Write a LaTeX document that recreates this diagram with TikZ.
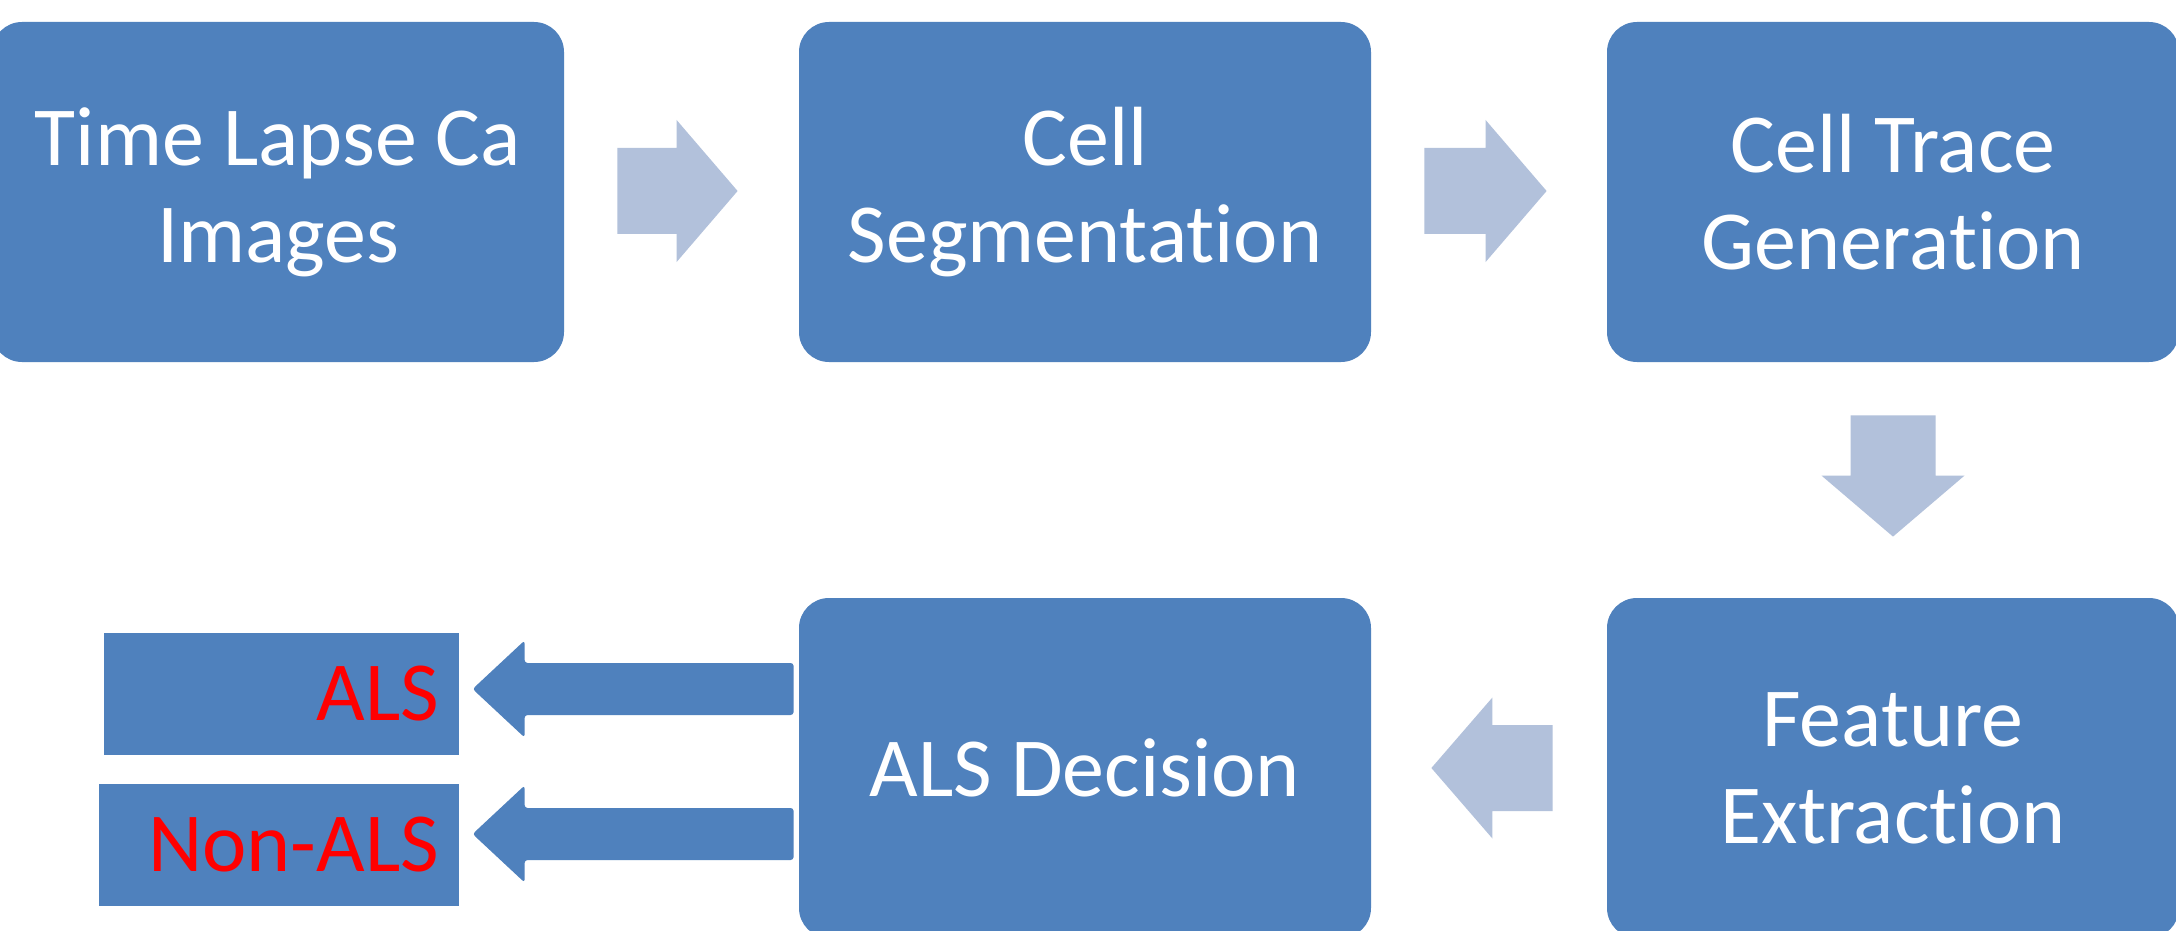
\documentclass[tikz,border=0pt]{standalone}
\usepackage{fontspec}
\setmainfont{Carlito}[Ligatures=NoCommon]
\usetikzlibrary{calc}
\definecolor{boxblue}{HTML}{4F81BD}
\definecolor{lightblue}{HTML}{B2C1DB}
\definecolor{alsred}{HTML}{FF0000}
% #1 style, #2 tail, #3 tip, #4 shaft half width, #5 head half width, #6 head length (signed)
\newcommand\myharrow[6]{%
  \fill[#1] ($(#2)+(0,-#4)$) -- ($(#3)+({-1*(#6)},-#4)$) -- ($(#3)+({-1*(#6)},-#5)$) -- (#3)
    -- ($(#3)+({-1*(#6)},#5)$) -- ($(#3)+({-1*(#6)},#4)$) -- ($(#2)+(0,#4)$) -- cycle;}
\newcommand\myvarrow[6]{%
  \fill[#1] ($(#2)+(-#4,0)$) -- ($(#3)+(-#4,{-1*(#6)})$) -- ($(#3)+(-#5,{-1*(#6)})$) -- (#3)
    -- ($(#3)+(#5,{-1*(#6)})$) -- ($(#3)+(#4,{-1*(#6)})$) -- ($(#2)+(#4,0)$) -- cycle;}
\begin{document}
\begin{tikzpicture}[x=0.5pt,y=-0.5pt,
  stagebox/.style={fill=boxblue, rounded corners=15pt, minimum width=286pt, minimum height=170pt,
    text=white, align=center, font=\fontsize{42}{48.5}\selectfont, inner sep=0pt},
  outbox/.style={fill=boxblue, minimum height=61pt, text=alsred, align=right,
    font=\fontsize{42}{48.5}\selectfont, inner xsep=10pt, inner ysep=0pt},
  flowarrow/.style={fill=lightblue},
  darkarrow/.style={fill=boxblue, rounded corners=1.5pt}]
\useasboundingbox (0,0) rectangle (2176,931);
\clip (0,0) rectangle (2176,931);
\fill[white] (0,0) rectangle (2176,931);

\node[stagebox] (img) at (278,192) {Time Lapse Ca\\Images};
\node[stagebox] (seg) at (1085,192) {Cell\\Segmentation};
\node[stagebox] (trace) at (1893,192) {Cell Trace\\Generation};
\node[stagebox] (feat) at (1893,768) {Feature\\Extraction};
\node[stagebox] (dec) at (1085,768) {ALS Decision};
\node[outbox, text width=157.5pt] (als) at (281.5,694) {ALS};
\node[outbox, text width=160pt] (nonals) at (279,845) {Non-ALS};

% light flow arrows
\coordinate (a1t) at ($(img.east)+(53,-1)$);
\coordinate (a1h) at ($(seg.west)+(-61,-1)$);
\myharrow{flowarrow}{a1t}{a1h}{43}{71}{61}
\coordinate (a2t) at ($(seg.east)+(53,-1)$);
\coordinate (a2h) at ($(trace.west)+(-60,-1)$);
\myharrow{flowarrow}{a2t}{a2h}{43}{71}{61}
\coordinate (a3t) at ($(trace.south)+(0,53)$);
\coordinate (a3h) at ($(feat.north)+(0,-61)$);
\myvarrow{flowarrow}{a3t}{a3h}{42.5}{71.5}{61}
\coordinate (a4t) at ($(feat.west)+(-54,0)$);
\coordinate (a4h) at ($(dec.east)+(60,0)$);
\myharrow{flowarrow}{a4t}{a4h}{43}{70.5}{-61}

% dark decision arrows
\coordinate (d1t) at ($(dec.west)+(-5,-79)$);
\coordinate (d1h) at ($(dec.west)+(-326,-79)$);
\myharrow{darkarrow}{d1t}{d1h}{26}{48.5}{-52}
\coordinate (d2t) at ($(dec.west)+(-5,66)$);
\coordinate (d2h) at ($(dec.west)+(-326,66)$);
\myharrow{darkarrow}{d2t}{d2h}{26}{48.5}{-52}
\end{tikzpicture}
\end{document}
